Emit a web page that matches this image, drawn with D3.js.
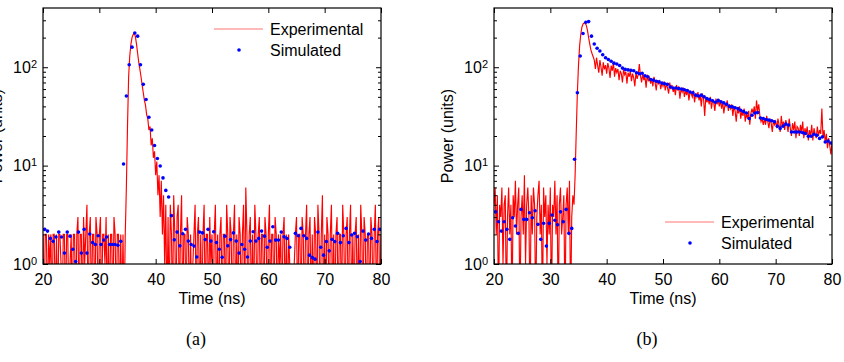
<!DOCTYPE html>
<html>
<head>
<meta charset="utf-8">
<script src="https://cdn.jsdelivr.net/npm/d3@7/dist/d3.min.js"></script>
<style>
body { margin: 0; background: #fff; }
svg { display: block; font-family: "Liberation Sans", Arial, sans-serif; }
</style>
</head>
<body>
<svg id="fig" width="844" height="362"></svg>
<script>
// ---- data ----
var xTicks = [20, 30, 40, 50, 60, 70, 80];
var yTicks = [1, 10, 100];
var yMinor = [2, 3, 4, 5, 6, 7, 8, 9, 20, 30, 40, 50, 60, 70, 80, 90, 200, 300];
var yDomain = [1, 400];
var legendNames = ["Experimental", "Simulated"];
var captions = ["(a)", "(b)"];
var xLabel = "Time (ns)";
var yLabel = "Power (units)";

// experimental trace: sampled every 0.2 ns from 20 ns
var expStart = 20, expStep = 0.2;
// simulated points: every 0.5 ns from 20.3 ns
var simStart = 20.3, simStep = 0.5;

var expA = [
    2,0,2,2,0,2,1,2,0,2, 2,0,2,0,2,2,1,0,2,2, 0,2,2,0,1,2,0,2,2,0,
    2,3,0,2,2,0,3,1,2,4, 0,2,3,0,2,2,0,3,2,0, 2,3,0,2,2,1,3,0,2,0,
    2,2,0,3,2,0,2,2,0,2, 0,2,0,
    2,6,25,80,130,170,200,215,222,205,172,138,112,95,80,66,55,46,41,33,
    30,23,25,16,19,12,14,8,11,5,8,3,7,2,5,1,4,0,3,
    0,4,2,0,5,2,0,3,4,0,2,5,0,2,
    2,0,3,2,0,2,0,1,2,4,0,2,3,0,2,0,2,4,0,2,2,0,3,1,2,
    0,2,4,0,2,0,2,3,0,2,2,0,4,2,0,3,2,0,2,4,0,2,0,3,2,
    0,2,4,0,6,2,0,2,3,0,2,0,4,2,0,2,3,0,2,2,0,3,2,0,2,
    4,0,2,2,0,3,2,0,2,1,2,0,2,3,0,2,0,2,1,0,1,0,1,2,3,
    0,2,2,0,3,2,0,2,4,0,2,3,0,2,0,3,2,0,4,2,0,2,5,0,2,
    0,3,2,0,2,4,0,2,0,2,3,0,2,2,0,4,2,0,2,3,0,2,4,0,2,
    0,2,3,0,2,0,4,2,0,3,2,0,2,2,0,3,2,0,2,4,0,2,3,0,2
];

var simA = [
    2.25,2.16,1.82,1.70,1.88,2.11,1.88,1.29,2.11,1.92,1.41,1.06,2.11,1.29,
    2.25,1.29,2.02,1.65,1.58,1.94,1.58,1.75,1.88,1.58,1.58,1.58,1.55,1.70,
    10.4,51,106,160,223,207,106,67,47,31,23,16,11.8,9.9,7.5,5.6,4.8,3.1,1.76,2.11,
    1.53,2.03,2.25,1.71,1.58,1.52,1.18,2.11,2.07,1.77,2.25,1.71,2.13,1.65,1.41,1.17,
    1.92,1.53,1.77,2.07,1.71,1.29,1.58,1.41,1.18,1.71,2.13,1.71,1.82,2.16,1.92,1.48,
    1.71,2.39,1.75,1.75,2.11,1.89,1.82,1.48,0.9,2.05,1.94,2.30,1.94,1.82,1.23,1.16,
    1.12,2.11,1.48,1.23,1.69,1.36,1.78,1.69,2.05,1.65,1.94,2.30,1.65,1.97,2.05,1.89,
    1.06,2.16,1.75,2.02,1.82,2.25,1.69,2.25
];

var expB = [
    4,6,2,5,0,4,3,6,1,4, 5,0,3,6,2,4,0,5,3,7, 2,4,6,0,3,5,2,8,1,4,
    6,3,0,5,2,6,4,0,3,5, 7,2,4,0,6,3,5,1,4,2, 6,0,4,3,7,2,5,0,4,6,
    2,3,5,0,4,6,2,7,0,3, 5,4,
    8,22,55,105,165,215,255,275,282,280,265,235,200,172,150,138,128,
    118,96,125,104,88,118,100,82,112,95,105,
    86,110,98,78,104,92,112,80,98,88,
    96,74,92,86,70,95,84,90,68,88,
    80,92,72,86,78,64,88,76,84,108,
    82,70,86,74,80,62,84,72,78,68,
    76,64,80,70,58,74,68,72,60,70,
    64,72,58,68,62,54,70,60,66,56,
    62,52,66,58,64,48,60,56,62,50,
    58,52,60,46,56,54,50,58,44,54,
    50,56,46,52,40,54,48,32,50,44,
    48,42,50,38,46,44,36,48,42,46,
    40,46,38,44,34,42,40,46,36,42,
    38,42,32,40,36,28,38,34,40,30,
    36,32,38,28,34,30,36,26,34,38,
    34,40,30,46,36,42,32,28,30,26,
    30,26,32,28,24,30,27,22,29,26,
    28,24,30,26,22,32,25,28,23,29,
    26,22,30,24,20,27,23,28,19,25,
    24,20,26,22,28,19,24,21,25,18,
    23,20,26,18,24,21,19,25,20,23,
    21,38,19,23,17,21,15,19,16,13,17
];

var simB = [
    3.39,2.69,2.16,2.69,2.25,1.78,2.95,2.43,2.05,3.59,2.84,2.84,3.32,2.95,
    3.48,2.53,1.78,2.59,1.52,2.59,3.14,2.78,2.51,3.39,2.69,3.59,2.05,2.30,
    11.6,55,130,220,287,291,207,172,156,146,134,125,120,115,110,108,104,98,95,94,
    93,92,88,86,87,82,80,75,74,72,71,69,
    68,67,63,61.5,61.5,60.8,60,59,58,56,55,52,
    51,52,50,48,47,45.6,44,46,44.5,43.4,42,40,
    39.5,38.8,38,36.6,35.5,34.3,30.1,32.5,34.3,34.6,30.5,30.1,
    29.4,29,28.6,27.9,25.2,23.9,25.2,26.4,25.8,22,22,22,
    22,21.6,21.2,19.9,19.9,20.8,20.3,18.9,19.6,17.4,17.8,17
];

// ---- drawing ----
var plotTop = 8, plotBottom = 264;
var svg = d3.select("#fig");

function styleAxis(sel)
{
    sel.select(".domain").remove();
    sel.selectAll(".tick line").attr("stroke", "#000").attr("stroke-width", 1);
    sel.selectAll(".tick text")
        .attr("fill", "#000")
        .attr("font-size", "16px")
        .attr("font-family", "'Liberation Sans', Arial, sans-serif");
}

function drawPanel(id, left, right, expData, simData, legendX, legendY, captionX, caption)
{
    var x = d3.scaleLinear()
        .domain([xTicks[0], xTicks[xTicks.length - 1]])
        .range([left, right]);
    var y = d3.scaleLog()
        .domain(yDomain)
        .range([plotBottom, plotTop]);

    var g = svg.append("g").attr("id", id);

    g.append("clipPath").attr("id", id + "clip")
        .append("rect")
        .attr("x", left).attr("y", plotTop)
        .attr("width", right - left).attr("height", plotBottom - plotTop);

    var expPts = expData.map(function(v, i) { return {t: expStart + i * expStep, v: v}; });
    var simPts = simData.map(function(v, i) { return {t: simStart + i * simStep, v: v}; });

    var line = d3.line()
        .x(function(d) { return x(d.t); })
        .y(function(d) { return y(Math.max(d.v, 0.3)); });

    g.append("path")
        .datum(expPts)
        .attr("clip-path", "url(#" + id + "clip)")
        .attr("fill", "none")
        .attr("stroke", "#ff0000")
        .attr("stroke-width", 1.15)
        .attr("d", line);

    g.append("g")
        .attr("clip-path", "url(#" + id + "clip)")
        .selectAll("circle")
        .data(simPts)
        .enter().append("circle")
        .attr("cx", function(d) { return x(d.t); })
        .attr("cy", function(d) { return y(d.v); })
        .attr("r", 1.8)
        .attr("fill", "#0000ff");

    // axes, ticks pointing inward on all four sides
    g.append("g")
        .attr("transform", "translate(0," + plotBottom + ")")
        .call(d3.axisBottom(x).tickValues(xTicks).tickSize(-5).tickPadding(10))
        .call(styleAxis);
    g.append("g")
        .attr("transform", "translate(0," + plotTop + ")")
        .call(d3.axisTop(x).tickValues(xTicks).tickSize(-5).tickFormat(""))
        .call(styleAxis);
    g.append("g")
        .attr("transform", "translate(" + left + ",0)")
        .call(d3.axisLeft(y).tickValues(yTicks).tickSize(-5).tickFormat(""))
        .call(styleAxis);
    g.append("g")
        .attr("transform", "translate(" + left + ",0)")
        .call(d3.axisLeft(y).tickValues(yMinor).tickSize(-3).tickFormat(""))
        .call(styleAxis);
    g.append("g")
        .attr("transform", "translate(" + right + ",0)")
        .call(d3.axisRight(y).tickValues(yTicks).tickSize(-5).tickFormat(""))
        .call(styleAxis);
    g.append("g")
        .attr("transform", "translate(" + right + ",0)")
        .call(d3.axisRight(y).tickValues(yMinor).tickSize(-3).tickFormat(""))
        .call(styleAxis);

    g.append("rect")
        .attr("x", left).attr("y", plotTop)
        .attr("width", right - left).attr("height", plotBottom - plotTop)
        .attr("fill", "none")
        .attr("stroke", "#000")
        .attr("stroke-width", 1.2);

    // y tick labels as 10^n
    var yl = g.selectAll(".ylab")
        .data(yTicks)
        .enter().append("text")
        .attr("class", "ylab")
        .attr("x", left - 6)
        .attr("y", function(d) { return y(d) + 5.5; })
        .attr("text-anchor", "end")
        .attr("font-size", "16px")
        .text("10");
    yl.append("tspan")
        .attr("font-size", "11px")
        .attr("dy", -5)
        .text(function(d) { return Math.round(Math.log10(d)); });

    g.append("text")
        .attr("x", (left + right) / 2)
        .attr("y", 304)
        .attr("text-anchor", "middle")
        .attr("font-size", "16px")
        .text(xLabel);

    // left panel's label runs off the page edge, as in the original figure
    g.append("text")
        .attr("transform", "translate(" + (left - 41) + "," + ((plotTop + plotBottom) / 2) + ") rotate(-90)")
        .attr("text-anchor", "middle")
        .attr("font-size", "16px")
        .text(yLabel);

    // legend
    g.append("line")
        .attr("x1", legendX).attr("x2", legendX + 49)
        .attr("y1", legendY).attr("y2", legendY)
        .attr("stroke", "#ff0000")
        .attr("stroke-opacity", 0.55)
        .attr("stroke-width", 1.2);
    g.append("circle")
        .attr("cx", legendX + 25).attr("cy", legendY + 21)
        .attr("r", 1.8)
        .attr("fill", "#0000ff");
    g.selectAll(".legtext")
        .data(legendNames)
        .enter().append("text")
        .attr("class", "legtext")
        .attr("x", legendX + 56)
        .attr("y", function(d, i) { return legendY + 6 + i * 21; })
        .attr("font-size", "16px")
        .text(function(d) { return d; });

    g.append("text")
        .attr("x", captionX)
        .attr("y", 345)
        .attr("text-anchor", "middle")
        .attr("font-family", "'Liberation Serif', 'DejaVu Serif', serif")
        .attr("font-size", "18px")
        .text(caption);
}

drawPanel("pa", 43, 381, expA, simA, 214, 29, 196, captions[0]);
drawPanel("pb", 494, 832, expB, simB, 665, 222, 647, captions[1]);
</script>
</body>
</html>
